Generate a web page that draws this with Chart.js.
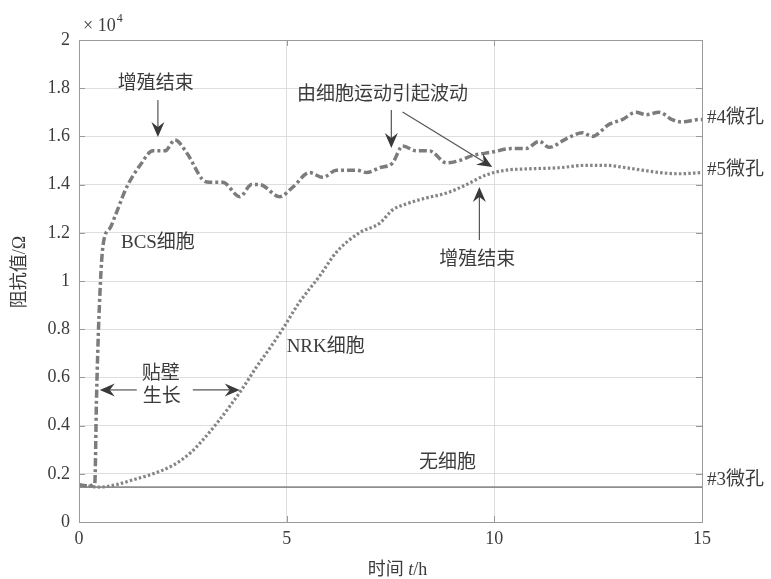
<!DOCTYPE html>
<html>
<head>
<meta charset="utf-8">
<script src="https://cdn.jsdelivr.net/npm/chart.js@4/dist/chart.umd.min.js"></script>
<style>
  html, body { margin:0; padding:0; background:#fff; }
  canvas { display:block; }
</style>
</head>
<body>
<canvas id="chart" width="771" height="579"></canvas>
<script>
// 阻抗-时间曲线 (单位 ×10^4 Ω)
const bcsTime = [0, 0.2, 0.38, 0.42, 0.48, 0.58, 0.75, 0.87, 1.15, 1.47, 1.78, 2.07, 2.31, 2.6, 2.98, 3.15, 3.46, 3.87, 4.16, 4.35, 4.83, 5.15, 5.55, 5.87, 6.2, 6.68, 6.92, 7.24, 7.55, 7.79, 8.13, 8.44, 8.85, 9.16, 9.47, 9.95, 10.43, 10.77, 11.08, 11.32, 11.73, 12.12, 12.36, 12.76, 13.08, 13.41, 13.65, 13.97, 14.28, 14.52, 14.93, 15];
const bcsImpedance = [0.155, 0.15, 0.16, 0.5, 0.85, 1.15, 1.22, 1.27, 1.39, 1.48, 1.54, 1.54, 1.585, 1.53, 1.42, 1.41, 1.41, 1.35, 1.40, 1.40, 1.35, 1.39, 1.45, 1.43, 1.46, 1.46, 1.45, 1.47, 1.49, 1.56, 1.54, 1.54, 1.49, 1.50, 1.52, 1.535, 1.55, 1.55, 1.58, 1.555, 1.59, 1.615, 1.60, 1.65, 1.67, 1.70, 1.69, 1.70, 1.67, 1.66, 1.67, 1.67];

const nrkTime = [0, 0.5, 0.9, 1.3, 1.78, 2.26, 2.67, 2.98, 3.32, 3.63, 3.94, 4.28, 4.59, 4.9, 5.3, 5.79, 6.2, 6.75, 7.24, 7.55, 7.88, 8.37, 8.85, 9.33, 9.8, 10.29, 10.77, 11.56, 12.21, 12.69, 13.17, 13.56, 13.97, 14.45, 15];
const nrkImpedance = [0.155, 0.145, 0.155, 0.175, 0.20, 0.235, 0.285, 0.34, 0.41, 0.48, 0.555, 0.645, 0.72, 0.80, 0.91, 1.02, 1.12, 1.20, 1.24, 1.295, 1.32, 1.345, 1.365, 1.40, 1.44, 1.46, 1.465, 1.47, 1.48, 1.48, 1.47, 1.46, 1.45, 1.445, 1.45];

const blankTime = [0, 15];
const blankImpedance = [0.145, 0.145];

const xTicks = [0, 5, 10, 15];
const yTicks = [0, 0.2, 0.4, 0.6, 0.8, 1, 1.2, 1.4, 1.6, 1.8, 2];

// 注释文字 (数据坐标)
const labels = [
  { text:'增殖结束',           t:1.85,  v:1.817, align:'center' },
  { text:'由细胞运动引起波动', t:7.31,  v:1.772, align:'center' },
  { text:'增殖结束',           t:9.59,  v:1.087, align:'center' },
  { text:'BCS细胞',            t:1.90,  v:1.158, align:'center' },
  { text:'NRK细胞',            t:5.94,  v:0.726, align:'center' },
  { text:'贴壁',               t:1.97,  v:0.614, align:'center' },
  { text:'生长',               t:1.995, v:0.519, align:'center' },
  { text:'无细胞',             t:8.87,  v:0.245, align:'center' },
  { text:'#4微孔',             t:15.12, v:1.676, align:'left' },
  { text:'#5微孔',             t:15.12, v:1.46,  align:'left' },
  { text:'#3微孔',             t:15.12, v:0.174, align:'left' },
];
// 箭头: 起点 -> 箭尖
const arrows = [
  [1.90, 1.751, 1.90, 1.598],
  [7.52, 1.71,  7.52, 1.552],
  [7.79, 1.701, 9.95, 1.473],
  [9.64, 1.17,  9.64, 1.39],
  [1.39, 0.548, 0.50, 0.548],
  [2.74, 0.548, 3.87, 0.548],
];

const pts = (xs, ys) => xs.map((x, i) => ({ x, y: ys[i] }));
const FONT = '"Liberation Serif", "Noto Sans CJK SC", serif';
const INK = '#3c3c3c';

function drawArrow(ctx, x1, y1, x2, y2) {
  const ang = Math.atan2(y2 - y1, x2 - x1);
  const len = 15, half = 6.5, notch = 10;
  ctx.save();
  ctx.strokeStyle = '#555';
  ctx.lineWidth = 1.2;
  ctx.beginPath();
  ctx.moveTo(x1, y1);
  ctx.lineTo(x2 - Math.cos(ang) * notch, y2 - Math.sin(ang) * notch);
  ctx.stroke();
  ctx.translate(x2, y2);
  ctx.rotate(ang);
  ctx.fillStyle = '#3a3a3a';
  ctx.beginPath();
  ctx.moveTo(0, 0);
  ctx.lineTo(-len, -half);
  ctx.lineTo(-notch, 0);
  ctx.lineTo(-len, half);
  ctx.closePath();
  ctx.fill();
  ctx.restore();
}

const annotate = {
  id: 'annotate',
  afterDatasetsDraw(chart) {
    const { ctx, chartArea: a, scales: { x, y } } = chart;
    ctx.save();
    // 边框与内侧刻度
    ctx.strokeStyle = '#9a9a9a';
    ctx.lineWidth = 1;
    ctx.strokeRect(a.left + 0.5, a.top + 0.5, a.right - a.left, a.bottom - a.top);
    ctx.beginPath();
    yTicks.forEach(v => {
      const py = Math.round(y.getPixelForValue(v)) + 0.5;
      ctx.moveTo(a.left, py); ctx.lineTo(a.left + 6, py);
      ctx.moveTo(a.right, py); ctx.lineTo(a.right - 6, py);
    });
    xTicks.forEach(v => {
      const px = Math.round(x.getPixelForValue(v)) + 0.5;
      ctx.moveTo(px, a.bottom); ctx.lineTo(px, a.bottom - 6);
      ctx.moveTo(px, a.top); ctx.lineTo(px, a.top + 6);
    });
    ctx.stroke();
    ctx.restore();
  },
  afterDraw(chart) {
    const { ctx, chartArea: a, scales: { x, y } } = chart;
    ctx.save();
    ctx.fillStyle = INK;
    ctx.textBaseline = 'middle';
    ctx.font = '19px ' + FONT;
    labels.forEach(l => {
      ctx.textAlign = l.align;
      ctx.fillText(l.text, x.getPixelForValue(l.t), y.getPixelForValue(l.v));
    });
    arrows.forEach(([t1, v1, t2, v2]) =>
      drawArrow(ctx, x.getPixelForValue(t1), y.getPixelForValue(v1), x.getPixelForValue(t2), y.getPixelForValue(v2)));

    // ×10^4
    ctx.textAlign = 'left';
    ctx.font = '18px ' + FONT;
    ctx.fillText('× 10', a.left + 4, a.top - 14);
    const w = ctx.measureText('× 10').width;
    ctx.font = '12px ' + FONT;
    ctx.fillText('4', a.left + 5 + w, a.top - 21);

    // x 轴标题: 时间 t/h
    const cx = (a.left + a.right) / 2 + 7, cy = 570;
    ctx.font = '18px ' + FONT;
    const p1 = '时间 ', p3 = '/h';
    ctx.font = 'italic 18px ' + FONT;
    const wt = ctx.measureText('t').width;
    ctx.font = '18px ' + FONT;
    const w1 = ctx.measureText(p1).width, w3 = ctx.measureText(p3).width;
    let sx = cx - (w1 + wt + w3) / 2;
    ctx.fillText(p1, sx, cy); sx += w1;
    ctx.font = 'italic 18px ' + FONT;
    ctx.fillText('t', sx, cy); sx += wt;
    ctx.font = '18px ' + FONT;
    ctx.fillText(p3, sx, cy);

    // y 轴标题
    ctx.translate(20, 272);
    ctx.rotate(-Math.PI / 2);
    ctx.textAlign = 'center';
    ctx.fillText('阻抗值/Ω', 0, 0);
    ctx.restore();
  }
};

new Chart(document.getElementById('chart').getContext('2d'), {
  type: 'line',
  data: {
    datasets: [
      { label:'#4微孔 BCS细胞', data: pts(bcsTime, bcsImpedance), borderColor:'#7c7c7c', borderWidth:3.5, borderDash:[8,3,3,3], pointRadius:0, cubicInterpolationMode:'monotone', fill:false },
      { label:'#5微孔 NRK细胞', data: pts(nrkTime, nrkImpedance), borderColor:'#858585', borderWidth:3.2, borderDash:[2.5,2.2], pointRadius:0, cubicInterpolationMode:'monotone', fill:false },
      { label:'#3微孔 无细胞', data: pts(blankTime, blankImpedance), borderColor:'#8e8e8e', borderWidth:1.8, pointRadius:0, fill:false },
    ],
  },
  options: {
    responsive:false, animation:false,
    layout:{ padding:{ left:0, right:69, top:40, bottom:0 } },
    plugins:{ legend:{ display:false }, tooltip:{ enabled:false } },
    scales:{
      x:{ type:'linear', min:0, max:15,
          afterBuildTicks: s => { s.ticks = xTicks.map(v => ({ value:v })); },
          ticks:{ color:INK, font:{ family:FONT, size:18 }, padding:6, maxRotation:0 },
          grid:{ color:'#dedede', drawTicks:false },
          border:{ color:'#9a9a9a' },
          afterFit: s => { s.height = 57; } },
      y:{ min:0, max:2,
          afterBuildTicks: s => { s.ticks = yTicks.map(v => ({ value:v })); },
          ticks:{ color:INK, font:{ family:FONT, size:18 }, padding:9, callback: v => String(Number(v.toFixed(1))) },
          grid:{ color:'#dedede', drawTicks:false },
          border:{ color:'#9a9a9a' },
          afterFit: s => { s.width = 79; } },
    },
  },
  plugins:[annotate],
});
</script>
</body>
</html>
